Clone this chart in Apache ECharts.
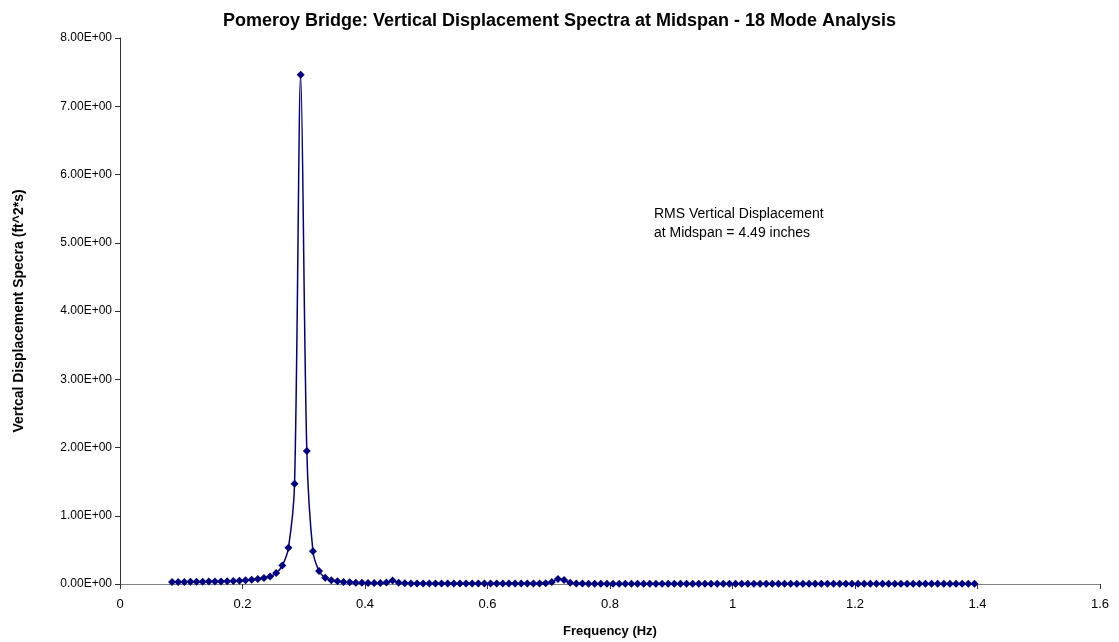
<!DOCTYPE html>
<html>
<head>
<meta charset="utf-8">
<script src="https://cdn.jsdelivr.net/npm/echarts@6/dist/echarts.min.js"></script>
<style>
html,body{margin:0;padding:0;background:#fff;}
#chart{width:1119px;height:642px;}
</style>
</head>
<body>
<div id="chart"></div>
<script>
const titleText = 'Pomeroy Bridge: Vertical Displacement Spectra at Midspan - 18 Mode Analysis';
const xAxisName = 'Frequency (Hz)';
const yAxisName = 'Vertcal Displacement Specra (ft^2*s)';
const noteLines = ['RMS Vertical Displacement', 'at Midspan = 4.49 inches'];

const frequencies = [
0.085,0.095,0.105,0.115,0.125,0.135,0.145,0.155,0.165,0.175,
0.185,0.195,0.205,0.215,0.225,0.235,0.245,0.255,0.265,0.275,
0.285,0.295,0.305,0.315,0.325,0.335,0.345,0.355,0.365,0.375,
0.385,0.395,0.405,0.415,0.425,0.435,0.445,0.455,0.465,0.475,
0.485,0.495,0.505,0.515,0.525,0.535,0.545,0.555,0.565,0.575,
0.585,0.595,0.605,0.615,0.625,0.635,0.645,0.655,0.665,0.675,
0.685,0.695,0.705,0.715,0.725,0.735,0.745,0.755,0.765,0.775,
0.785,0.795,0.805,0.815,0.825,0.835,0.845,0.855,0.865,0.875,
0.885,0.895,0.905,0.915,0.925,0.935,0.945,0.955,0.965,0.975,
0.985,0.995,1.005,1.015,1.025,1.035,1.045,1.055,1.065,1.075,
1.085,1.095,1.105,1.115,1.125,1.135,1.145,1.155,1.165,1.175,
1.185,1.195,1.205,1.215,1.225,1.235,1.245,1.255,1.265,1.275,
1.285,1.295,1.305,1.315,1.325,1.335,1.345,1.355,1.365,1.375,
1.385,1.395
];

const spectra = [
0.030,0.030,0.031,0.032,0.033,0.034,0.035,0.036,0.038,0.040,
0.044,0.048,0.055,0.062,0.073,0.088,0.110,0.160,0.270,0.530,
1.47,7.46,1.95,0.48,0.19,0.090,0.055,0.040,0.030,0.024,
0.020,0.017,0.015,0.014,0.015,0.022,0.050,0.020,0.011,0.009,
0.008,0.008,0.008,0.007,0.007,0.007,0.007,0.007,0.006,0.006,
0.006,0.006,0.006,0.006,0.006,0.006,0.006,0.006,0.006,0.006,
0.007,0.010,0.030,0.075,0.060,0.020,0.008,0.006,0.005,0.005,
0.005,0.005,0.005,0.005,0.005,0.005,0.005,0.005,0.005,0.005,
0.004,0.004,0.004,0.004,0.004,0.004,0.004,0.004,0.004,0.004,
0.004,0.004,0.004,0.004,0.004,0.004,0.004,0.004,0.004,0.004,
0.003,0.003,0.003,0.003,0.003,0.003,0.003,0.003,0.003,0.003,
0.003,0.003,0.003,0.003,0.003,0.003,0.003,0.003,0.003,0.003,
0.003,0.003,0.003,0.003,0.003,0.003,0.003,0.003,0.003,0.003,
0.002,0.002
];

const seriesData = frequencies.map((f, i) => [f, spectra[i]]);

const chart = echarts.init(document.getElementById('chart'), null, {renderer: 'canvas'});
chart.setOption({
  animation: false,
  backgroundColor: '#ffffff',
  title: {
    text: titleText,
    left: 'center',
    top: 7,
    textStyle: {fontFamily: 'Liberation Sans, Arial, sans-serif', fontSize: 18, fontWeight: 'bold', color: '#000'}
  },
  grid: {left: 120, right: 19, top: 38, bottom: 58, containLabel: false, outerBoundsMode: 'none'},
  xAxis: {
    type: 'value',
    min: 0, max: 1.6, interval: 0.2,
    name: xAxisName,
    nameLocation: 'middle',
    nameGap: 41,
    nameTextStyle: {fontFamily: 'Liberation Sans, Arial, sans-serif', fontSize: 13, fontWeight: 'bold', color: '#000'},
    axisLine: {show: true, lineStyle: {color: '#808080', width: 1}},
    axisTick: {show: true, length: 5, inside: false, lineStyle: {color: '#333'}},
    axisLabel: {fontFamily: 'Liberation Sans, Arial, sans-serif', fontSize: 13, color: '#000', margin: 14},
    splitLine: {show: false}
  },
  yAxis: {
    type: 'value',
    min: 0, max: 8, interval: 1,
    name: yAxisName,
    nameLocation: 'middle',
    nameGap: 94,
    nameRotate: 90,
    nameTextStyle: {fontFamily: 'Liberation Sans, Arial, sans-serif', fontSize: 14, fontWeight: 'bold', color: '#000'},
    axisLine: {show: true, lineStyle: {color: '#333', width: 1}},
    axisTick: {show: true, length: 5, inside: false, lineStyle: {color: '#333'}},
    axisLabel: {
      fontFamily: 'Liberation Sans, Arial, sans-serif', fontSize: 12, color: '#000', margin: 8,
      formatter: v => v.toFixed(2) + 'E+00'
    },
    splitLine: {show: false}
  },
  graphic: [{
    type: 'text',
    left: 654, top: 205,
    style: {
      text: noteLines.join('\n'),
      font: '14px "Liberation Sans", Arial, sans-serif',
      fill: '#000',
      lineHeight: 19
    }
  }],
  series: [{
    type: 'line',
    data: seriesData,
    smooth: 0.3,
    symbol: 'diamond',
    symbolSize: [8, 8],
    showAllSymbol: true,
    lineStyle: {color: '#000080', width: 1.5},
    itemStyle: {color: '#000080'}
  }]
});
</script>
</body>
</html>
